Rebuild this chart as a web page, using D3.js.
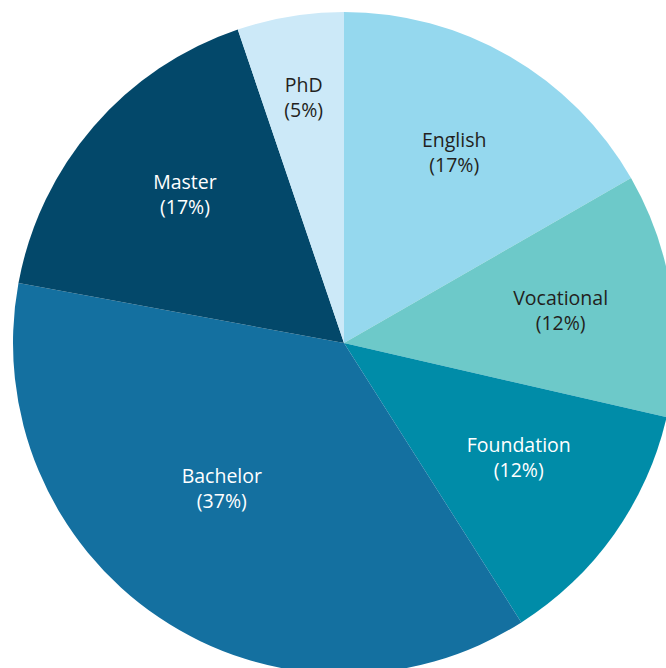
<!DOCTYPE html>
<html>
<head>
<meta charset="utf-8">
<script src="https://cdn.jsdelivr.net/npm/d3@7"></script>
<style>
  body { margin: 0; background: #fff; }
  svg { display: block; }
  .slice-label { font-family: "Open Sans", sans-serif; font-size: 19.5px; }
</style>
</head>
<body>
<div id="pie"></div>
<script>
const categories = ["English", "Vocational", "Foundation", "Bachelor", "Master", "PhD"];
const shares = [16.7, 11.9, 12.4, 36.9, 16.9, 5.2];
const colors = ["#95d8ee", "#6dc9c9", "#008ca8", "#1470a0", "#03486a", "#cce9f8"];
const textColors = ["#231f20", "#231f20", "#fff", "#fff", "#fff", "#231f20"];

const width = 666;
const height = 668;
const cx = 344;
const cy = 343;
const radius = 331;

// label distance from centre, per slice
const labelRadius = [220, 219, 209, 190, 217, 248];
const labelTurn = [0, 0, -2, 6, 2, 0]; // degrees

const data = categories.map((c, i) => ({ name: c, value: shares[i], i }));

const svg = d3.select("#pie")
    .append("svg")
    .attr("width", width)
    .attr("height", height);

const chart = svg.append("g")
    .attr("transform", `translate(${cx},${cy})`);

const pie = d3.pie()
    .value(d => d.value)
    .sort(null);

const arc = d3.arc()
    .innerRadius(0)
    .outerRadius(radius);

const arcs = pie(data);

chart.selectAll("path")
    .data(arcs)
    .join("path")
    .attr("d", arc)
    .attr("fill", d => colors[d.data.i]);

const labels = chart.selectAll("text")
    .data(arcs)
    .join("text")
    .attr("class", "slice-label")
    .attr("text-anchor", "middle")
    .attr("fill", d => textColors[d.data.i])
    .attr("transform", d => {
        const a = (d.startAngle + d.endAngle) / 2 + labelTurn[d.data.i] * Math.PI / 180;
        const r = labelRadius[d.data.i];
        return `translate(${r * Math.sin(a)},${-r * Math.cos(a)})`;
    });

labels.append("tspan")
    .attr("x", 0)
    .attr("y", -6)
    .text(d => d.data.name);

labels.append("tspan")
    .attr("x", 0)
    .attr("y", 19)
    .text(d => `(${Math.round(d.data.value)}%)`);
</script>
</body>
</html>
